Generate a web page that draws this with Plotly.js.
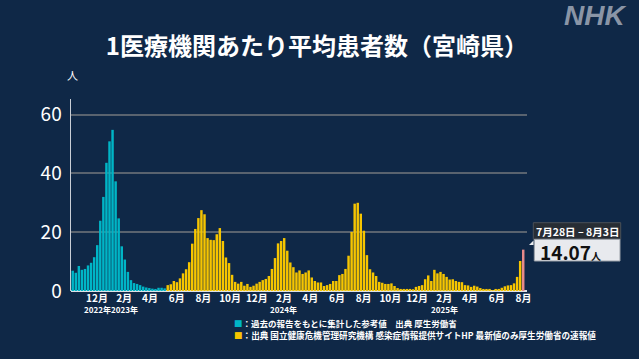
<!DOCTYPE html>
<html>
<head>
<meta charset="utf-8">
<script src="https://cdn.plot.ly/plotly-3.0.1.min.js"></script>
<style>
  html, body { margin: 0; padding: 0; background: #0f2847; }
  #chart { width: 639px; height: 359px; }
</style>
</head>
<body>
<div id="chart"></div>
<script>
// ---- data ----
const firstWeekStart = '2022-10-03'; // Monday of first weekly bar

// 過去の報告をもとに集計した参考値 (cyan), weeks from 2022-10-03
const referenceValues = [
  6.9, 6.2, 8.5, 7.2, 7.5, 8.7, 9.6, 11.5, 15.6, 23.9,
  32.0, 43.6, 50.9, 54.8, 37.3, 24.7, 15.2, 10.7, 6.5, 3.7,
  2.7, 2.4, 2.0, 1.5, 1.2, 1.0, 0.8, 0.7, 1.1, 1.1, 0.9
];

// 国立健康危機管理研究機構 (yellow), weeks from 2023-05-08
const sentinelValues = [
  2.0, 2.3, 3.4, 3.0, 4.3, 6.0, 7.4, 9.8, 16.1, 21.1,
  24.8, 27.5, 26.1, 18.0, 17.4, 17.3, 19.3, 21.4, 17.0, 11.4,
  9.5, 5.5, 3.1, 2.5, 3.1, 1.8, 2.4, 1.4, 1.8, 2.5,
  3.1, 3.7, 4.1, 5.1, 7.5, 11.2, 16.2, 17.0, 18.0, 13.7,
  9.7, 8.1, 6.3, 7.0, 5.8, 6.3, 7.0, 4.6, 3.4, 2.9,
  2.9, 1.7, 2.0, 2.4, 3.4, 3.4, 5.4, 5.8, 7.5, 12.0,
  20.1, 29.7, 30.0, 26.3, 20.5, 12.2, 7.4, 6.3, 5.1, 3.1,
  2.8, 2.4, 2.4, 2.6, 1.7, 1.0, 0.7, 0.7, 0.7, 0.7,
  0.6, 1.4, 1.7, 2.0, 4.0, 5.3, 3.4, 7.2, 6.0, 6.5,
  5.8, 4.8, 3.9, 4.0, 3.4, 3.1, 3.0, 2.0, 1.9, 1.4,
  1.8, 1.5, 1.0, 0.7, 0.7, 0.7, 0.3, 0.7, 0.7, 1.1,
  1.6, 1.9, 2.0, 2.6, 4.8, 10.2
];

// 最新値 (厚生労働省の速報値)
const latestValues = [14.07];
const latestLabel = '7月28日 – 8月3日';

const tickDates = [
  '2022-12-01','2023-02-01','2023-04-01','2023-06-01','2023-08-01','2023-10-01',
  '2023-12-01','2024-02-01','2024-04-01','2024-06-01','2024-08-01','2024-10-01',
  '2024-12-01','2025-02-01','2025-04-01','2025-06-01','2025-08-01'
];
const tickLabels = [
  '12月','2月','4月','6月','8月','10月',
  '12月','2月','4月','6月','8月','10月',
  '12月','2月','4月','6月','8月'
];
const yearDates = ['2022-12-01','2023-02-01','2024-02-01','2025-02-01'];
const yearLabels = ['2022年','2023年','2024年','2025年'];

// ---- helpers ----
const DAY = 86400000;
const t0 = Date.parse(firstWeekStart + 'T00:00:00Z');
function weekCenter(i) {
  return new Date(t0 + (i * 7 + 3.5) * DAY).toISOString().slice(0, 19).replace('T', ' ');
}
const nRef = referenceValues.length;
const nSen = sentinelValues.length;
const refX = referenceValues.map((v, i) => weekCenter(i));
const senX = sentinelValues.map((v, i) => weekCenter(nRef + i));
const latestX = latestValues.map((v, i) => weekCenter(nRef + nSen + i));

const FONT = '"Noto Sans CJK JP", "Noto Sans", sans-serif';
const barW = 5.6 * DAY;

const traces = [
  { type: 'bar', x: refX, y: referenceValues, width: barW,
    marker: { color: '#00b5c6', line: { width: 0 } }, hoverinfo: 'skip' },
  { type: 'bar', x: senX, y: sentinelValues, width: barW,
    marker: { color: '#f6c500', line: { width: 0 } }, hoverinfo: 'skip' },
  { type: 'bar', x: latestX, y: latestValues, width: barW,
    marker: { color: '#e88a8a', line: { width: 0 } }, hoverinfo: 'skip' }
];

// pixel -> paper helpers (plot area: x 71..527, y 99..291)
const L = 71, R = 527, T = 99, B = 291;
const px = v => (v - L) / (R - L);
const py = v => (B - v) / (B - T);

function note(text, x, y, xa, font, extra) {
  return Object.assign({ text: text, xref: 'paper', yref: 'paper', x: px(x), y: py(y),
    xanchor: xa, yanchor: 'middle', showarrow: false, font: font }, extra || {});
}

const annotations = [
  note('NHK', 595, 15, 'center', { family: '"Liberation Sans", Arial, sans-serif', size: 28, color: '#8a95a6', weight: 'bold', style: 'italic' }),
  note('人', 72, 75, 'center', { family: FONT, size: 11, color: '#ffffff' }),
  note(latestLabel, 577, 231, 'center', { family: FONT, size: 10.5, color: '#ffffff', weight: 'bold' }),
  note('14.07<span style="font-size:10px">人</span>', 538, 251, 'left', { family: FONT, size: 19, color: '#111111', weight: 'bold' }),
  note('<span style="color:#00b5c6">■</span>：過去の報告をもとに集計した参考値　出典 厚生労働省', 232, 323, 'left',
    { family: FONT, size: 8.5, color: '#ffffff', weight: 'bold' }),
  note('<span style="color:#f6c500">■</span>：出典 国立健康危機管理研究機構 感染症情報提供サイトHP 最新値のみ厚生労働省の速報値', 232, 335, 'left',
    { family: FONT, size: 8.6, color: '#ffffff', weight: 'bold' })
];
yearDates.forEach((d, i) => {
  annotations.push({ text: yearLabels[i], xref: 'x', yref: 'paper', x: d, y: py(309),
    xanchor: 'center', yanchor: 'middle',
    showarrow: false, font: { family: FONT, size: 8, color: '#ffffff', weight: 'bold' } });
});

const shapes = [
  { type: 'rect', xref: 'paper', yref: 'paper', x0: px(533.3), x1: px(620.7), y0: py(239.3), y1: py(222.7),
    fillcolor: '#272d34', line: { color: '#4a5058', width: 1 } },
  { type: 'rect', xref: 'paper', yref: 'paper', x0: px(534.3), x1: px(620), y0: py(261), y1: py(239.3),
    fillcolor: '#e8eaee', line: { color: '#9aa0a8', width: 1 } },
  { type: 'path', xref: 'paper', yref: 'paper',
    path: `M ${px(533.5)} ${py(240.5)} L ${px(529)} ${py(245)} L ${px(533.5)} ${py(245)} Z`,
    fillcolor: '#e8eaee', line: { width: 0 } }
];

const layout = {
  width: 639, height: 359,
  margin: { l: L, r: 639 - R, t: T, b: 359 - B, pad: 0 },
  paper_bgcolor: '#0f2847', plot_bgcolor: '#0f2847',
  showlegend: false,
  barmode: 'overlay',
  title: { text: '1医療機関あたり平均患者数（宮崎県）', x: 0.496, xanchor: 'center', y: 1 - 47 / 359, yanchor: 'middle',
    font: { family: FONT, size: 24, color: '#ffffff', weight: 'bold' } },
  xaxis: {
    type: 'date',
    range: ['2022-10-02 14:00', '2025-08-09 02:00'],
    tickvals: tickDates, ticktext: tickLabels,
    showgrid: false, zeroline: false, showline: false, ticks: '',
    tickfont: { family: FONT, size: 10, color: '#ffffff', weight: 'bold' },
    fixedrange: true
  },
  yaxis: {
    range: [0, 65.3],
    tickvals: [0, 20, 40, 60],
    showgrid: true, gridcolor: '#59636f', gridwidth: 2,
    zeroline: true, zerolinecolor: '#dde1e6', zerolinewidth: 2,
    showline: true, linecolor: '#c9ced6', linewidth: 1.5,
    ticks: '', ticklabelstandoff: 4,
    tickfont: { family: FONT, size: 19, color: '#ffffff' },
    fixedrange: true
  },
  annotations: annotations,
  shapes: shapes
};

Plotly.newPlot('chart', traces, layout, { displayModeBar: false, staticPlot: true });
</script>
</body>
</html>
